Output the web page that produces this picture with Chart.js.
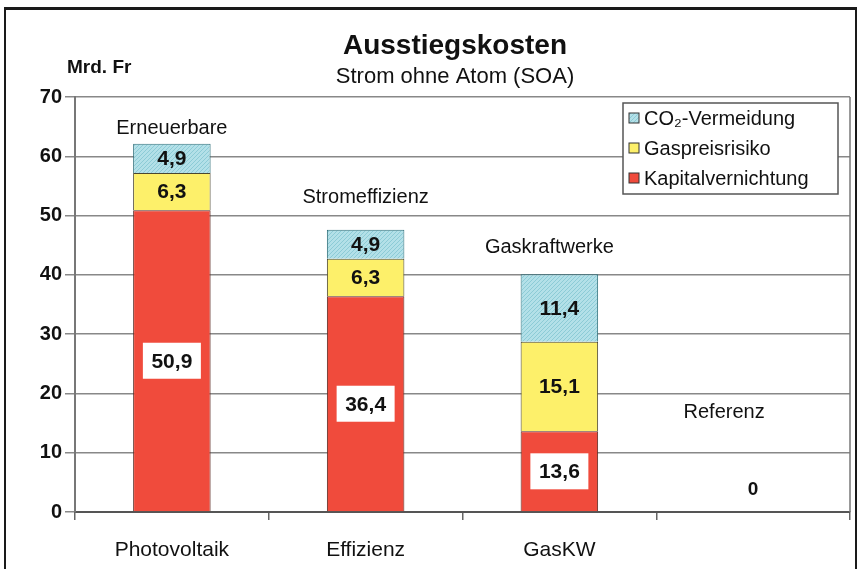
<!DOCTYPE html>
<html><head><meta charset="utf-8">
<script src="https://cdn.jsdelivr.net/npm/chart.js@4/dist/chart.umd.min.js"></script>
<style>
html,body{margin:0;padding:0;background:#fff;}
#wrap{position:relative;width:864px;height:569px;overflow:hidden;}
#frame{position:absolute;left:4px;top:7px;width:853px;height:600px;border:2px solid #1a1a1a;border-top-width:3px;box-sizing:border-box;}
canvas{position:absolute;left:0;top:0;}
</style></head>
<body><div id="wrap"><div id="frame"></div><canvas id="c" width="864" height="569"></canvas></div>
<script>
const categories = ["Photovoltaik", "Effizienz", "GasKW", ""];
const groupLabels = ["Erneuerbare", "Stromeffizienz", "Gaskraftwerke", "Referenz"];
const groupLabelLevels = [64.7, 53, 44.7, 16.8];
const kapitalvernichtung = [50.9, 36.4, 13.6, 0];
const gaspreisrisiko = [6.3, 6.3, 15.1, 0];
const co2Vermeidung = [4.9, 4.9, 11.4, 0];
const yTicks = [0, 10, 20, 30, 40, 50, 60, 70];

const FONT = "'Liberation Sans', Arial, sans-serif";

function hatch() {
  const p = document.createElement('canvas');
  p.width = 4; p.height = 4;
  const g = p.getContext('2d');
  g.fillStyle = '#b3e0e8'; g.fillRect(0,0,4,4);
  g.strokeStyle = '#8ccbd6'; g.lineWidth = 1;
  g.beginPath(); g.moveTo(0,4); g.lineTo(4,0); g.stroke();
  return g.createPattern(p, 'repeat');
}
const ctx = document.getElementById('c').getContext('2d');

const fmt = v => v.toFixed(1).replace('.', ',');

const overlay = {
  id: 'overlay',
  afterDatasetsDraw(chart) {
    const c = chart.ctx, ca = chart.chartArea, xs = chart.scales.x, ys = chart.scales.y;
    c.save();
    // right border
    c.strokeStyle = '#777'; c.lineWidth = 1.5;
    c.beginPath(); c.moveTo(ca.right, ca.top); c.lineTo(ca.right, ca.bottom); c.stroke();
    // data labels
    c.textAlign = 'center'; c.textBaseline = 'middle';
    c.font = "bold 21px " + FONT;
    chart.data.datasets.forEach((ds, di) => {
      const meta = chart.getDatasetMeta(di);
      meta.data.forEach((el, i) => {
        const v = ds.data[i];
        if (!v) return;
        const yc = (el.y + el.base) / 2;
        if (di === 0) {
          c.fillStyle = '#fff';
          c.fillRect(el.x - 29, yc - 18, 58, 36);
        }
        c.fillStyle = '#111';
        c.fillText(fmt(v), el.x, yc + 1);
      });
    });
    // zero label and group labels
    categories.forEach((cat, i) => {
      const total = kapitalvernichtung[i] + gaspreisrisiko[i] + co2Vermeidung[i];
      const x = xs.getPixelForValue(i);
      if (total === 0) {
        c.font = "bold 19px " + FONT; c.fillStyle = '#111';
        c.fillText('0', x, ys.getPixelForValue(0) - 22);
      }
      c.font = "20px " + FONT; c.fillStyle = '#111';
      const dx = i === 3 ? -29 : (i === 2 ? -10 : 0);
      c.fillText(groupLabels[i], x + dx, ys.getPixelForValue(groupLabelLevels[i]));
    });
    // titles
    c.font = "bold 28px " + FONT;
    c.fillText('Ausstiegskosten', 455, 46);
    c.font = "22px " + FONT;
    c.fillText('Strom ohne Atom (SOA)', 455, 77);
    c.font = "bold 19px " + FONT;
    c.textAlign = 'left';
    c.fillText('Mrd. Fr', 67, 68);
    // legend
    const lx = ca.right - 227, ly = ca.top + 6, lw = 215, lh = 91;
    c.fillStyle = '#fff'; c.fillRect(lx, ly, lw, lh);
    c.strokeStyle = '#555'; c.lineWidth = 1.5; c.strokeRect(lx, ly, lw, lh);
    const order = [2, 1, 0];
    order.forEach((di, k) => {
      const ds = chart.data.datasets[di];
      const yy = ly + 15 + k * 30;
      c.fillStyle = ds.backgroundColor; c.fillRect(lx + 6, yy - 5, 10, 10);
      c.strokeStyle = '#333'; c.lineWidth = 1; c.strokeRect(lx + 6, yy - 5, 10, 10);
      c.fillStyle = '#111'; c.font = "20px " + FONT; c.textBaseline = 'middle';
      c.fillText(ds.label, lx + 21, yy + 1);
    });
    c.restore();
  }
};

new Chart(ctx, {
  type: 'bar',
  data: {
    labels: categories,
    datasets: [
      { label: 'Kapitalvernichtung', data: kapitalvernichtung, backgroundColor: '#f04b3c', borderColor: '#5a2a22', borderWidth: 1 },
      { label: 'Gaspreisrisiko', data: gaspreisrisiko, backgroundColor: '#fdf06a', borderColor: '#4a4530', borderWidth: 1 },
      { label: 'CO₂-Vermeidung', data: co2Vermeidung, backgroundColor: hatch(), borderColor: '#2f6f7a', borderWidth: 1 }
    ]
  },
  options: {
    responsive: false, animation: false,
    layout: { padding: { left: 0, right: 14, top: 97, bottom: 0 } },
    datasets: { bar: { barPercentage: 0.8, categoryPercentage: 0.5 } },
    plugins: { legend: { display: false }, tooltip: { enabled: false }, title: { display: false } },
    scales: {
      x: {
        stacked: true,
        grid: { offset: true, drawOnChartArea: false, tickLength: 8, color: '#666', lineWidth: 1.5 },
        border: { color: '#555', width: 2 },
        ticks: { padding: 18, color: '#111', font: { family: FONT, size: 21 } },
        afterFit(s) { s.height = 57; }
      },
      y: {
        stacked: true, min: 0, max: 70,
        afterBuildTicks(s) { s.ticks = yTicks.map(v => ({ value: v })); },
        grid: { color: '#888', lineWidth: 1.5, tickLength: 10 },
        border: { color: '#777', width: 2 },
        ticks: { padding: 3, color: '#111', font: { family: FONT, size: 20, weight: 'bold' } },
        afterFit(s) { s.width = 75; }
      }
    }
  },
  plugins: [overlay]
});
</script>
</body></html>
